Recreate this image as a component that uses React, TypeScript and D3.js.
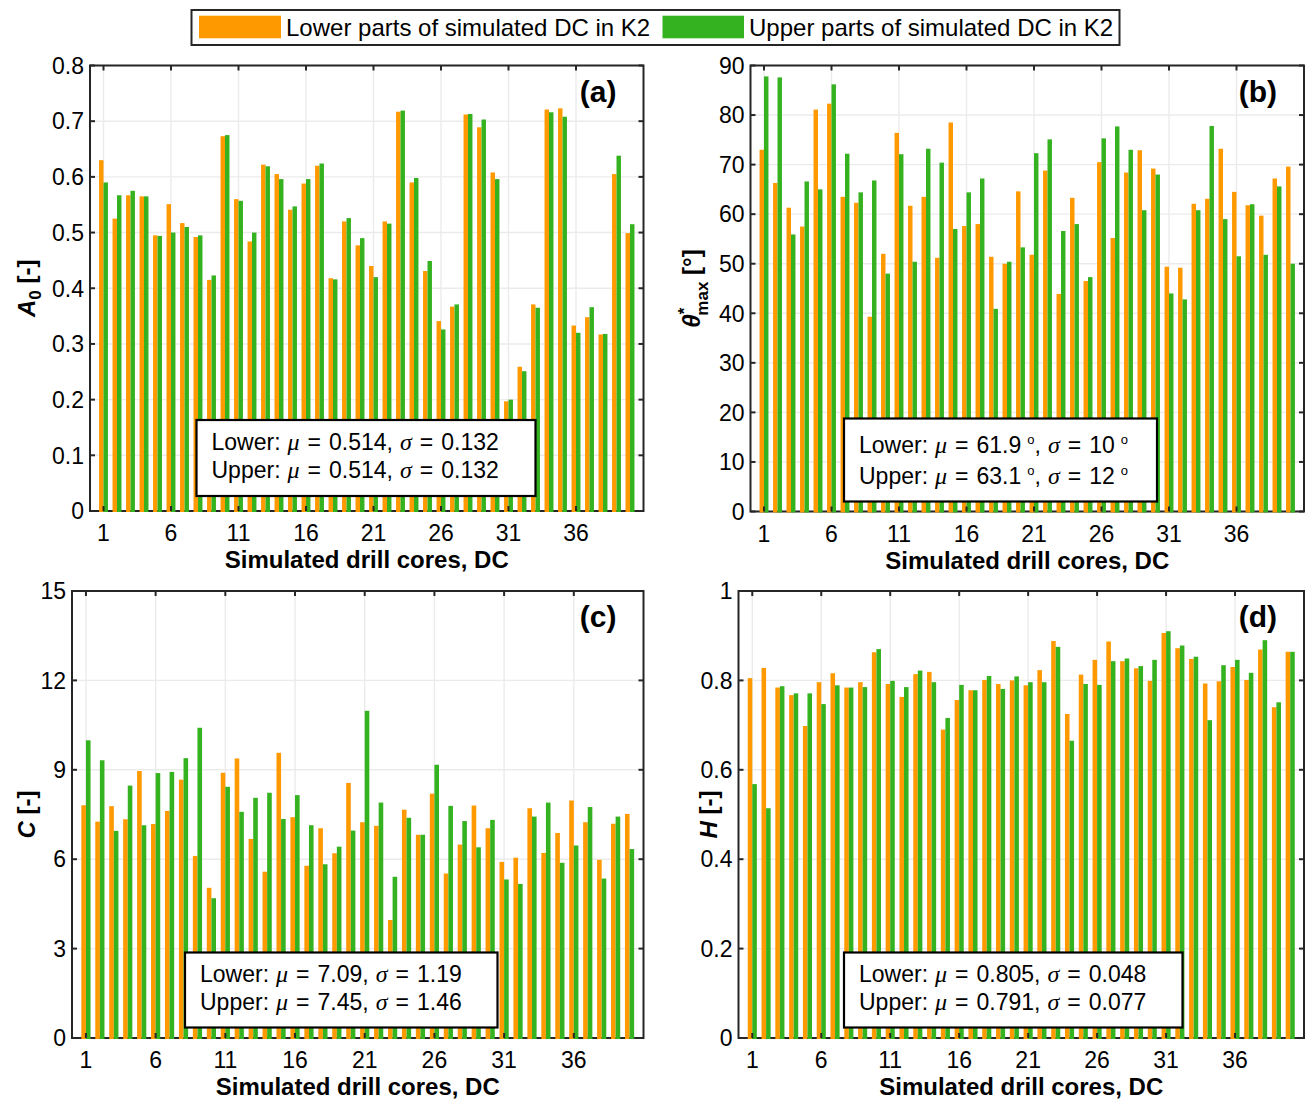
import React from "react";
import * as d3 from "d3";

// drill cores and tick values
const cores = [1, 2, 3, 4, 5, 6, 7, 8, 9, 10, 11, 12, 13, 14, 15, 16, 17, 18, 19, 20,
  21, 22, 23, 24, 25, 26, 27, 28, 29, 30, 31, 32, 33, 34, 35, 36, 37, 38, 39, 40];
const xTicks = [1, 6, 11, 16, 21, 26, 31, 36];

const a0Ticks = [0, 0.1, 0.2, 0.3, 0.4, 0.5, 0.6, 0.7, 0.8];
const thetaTicks = [0, 10, 20, 30, 40, 50, 60, 70, 80, 90];
const cTicks = [0, 3, 6, 9, 12, 15];
const hTicks = [0, 0.2, 0.4, 0.6, 0.8, 1];

// (a) A0
const a0Lower = [0.63, 0.525, 0.567, 0.565, 0.495, 0.551, 0.517, 0.492, 0.415, 0.673,
  0.56, 0.484, 0.622, 0.605, 0.541, 0.588, 0.62, 0.418, 0.52, 0.477,
  0.44, 0.52, 0.717, 0.59, 0.431, 0.341, 0.367, 0.712, 0.689, 0.608,
  0.197, 0.259, 0.371, 0.721, 0.723, 0.333, 0.348, 0.317, 0.605, 0.499];
const a0Upper = [0.59, 0.567, 0.575, 0.565, 0.494, 0.5, 0.51, 0.495, 0.423, 0.675,
  0.557, 0.5, 0.619, 0.596, 0.547, 0.596, 0.624, 0.416, 0.526, 0.49,
  0.42, 0.516, 0.719, 0.598, 0.449, 0.326, 0.371, 0.713, 0.703, 0.596,
  0.2, 0.251, 0.365, 0.716, 0.708, 0.32, 0.366, 0.318, 0.638, 0.515];

// (b) theta*max
const thetaLower = [73.0, 66.3, 61.3, 57.5, 81.1, 82.3, 63.5, 62.3, 39.3, 52.0,
  76.4, 61.7, 63.5, 51.2, 78.5, 57.6, 58.0, 51.4, 50.0, 64.6,
  51.8, 68.8, 43.9, 63.3, 46.5, 70.5, 55.2, 68.4, 72.9, 69.2,
  49.4, 49.2, 62.1, 63.1, 73.2, 64.5, 61.8, 59.7, 67.2, 69.6];
const thetaUpper = [87.8, 87.6, 55.9, 66.6, 65.0, 86.2, 72.2, 64.4, 66.8, 48.0,
  72.1, 50.4, 73.2, 70.4, 57.0, 64.4, 67.2, 40.9, 50.4, 53.3,
  72.3, 75.1, 56.6, 58.0, 47.3, 75.3, 77.7, 73.0, 60.8, 68.0,
  44.0, 42.8, 60.8, 77.8, 59.0, 51.5, 62.0, 51.8, 65.6, 50.0];

// (c) C
const cLower = [7.81, 7.26, 7.78, 7.34, 8.96, 7.18, 7.62, 8.67, 6.11, 5.04,
  8.9, 9.38, 6.68, 5.58, 9.57, 7.41, 5.78, 7.04, 6.2, 8.56,
  7.24, 7.12, 3.96, 7.66, 6.82, 8.2, 5.52, 6.49, 7.8, 7.04,
  5.91, 6.05, 7.71, 6.21, 6.88, 7.97, 7.24, 5.98, 7.19, 7.52];
const cUpper = [9.99, 9.32, 6.95, 8.47, 7.14, 8.89, 8.93, 9.39, 10.41, 4.69,
  8.43, 7.59, 8.06, 8.23, 7.35, 8.15, 7.14, 5.83, 6.42, 6.96,
  10.98, 7.9, 5.41, 7.39, 6.82, 9.17, 7.79, 7.28, 6.4, 7.32,
  5.32, 5.17, 7.43, 7.9, 5.88, 6.46, 7.75, 5.35, 7.43, 6.34];

// (d) H
const hLower = [0.805, 0.828, 0.784, 0.767, 0.698, 0.796, 0.816, 0.784, 0.796, 0.863,
  0.792, 0.763, 0.814, 0.819, 0.69, 0.756, 0.778, 0.801, 0.792, 0.8,
  0.789, 0.823, 0.888, 0.725, 0.813, 0.846, 0.887, 0.843, 0.827, 0.799,
  0.906, 0.872, 0.848, 0.793, 0.798, 0.83, 0.801, 0.869, 0.74, 0.864];
const hUpper = [0.568, 0.514, 0.787, 0.771, 0.771, 0.747, 0.789, 0.784, 0.785, 0.87,
  0.799, 0.785, 0.822, 0.796, 0.716, 0.79, 0.778, 0.81, 0.781, 0.809,
  0.796, 0.796, 0.875, 0.665, 0.792, 0.79, 0.843, 0.849, 0.832, 0.846,
  0.91, 0.878, 0.853, 0.711, 0.834, 0.846, 0.817, 0.89, 0.751, 0.864];

const seriesNames = ["Lower parts of simulated DC in K2", "Upper parts of simulated DC in K2"];

const ORANGE = "#ff9900";
const GREEN = "#35b21f";
const AXIS = "#262626";
const GRID = "#ebebeb";
const FONT = "'Liberation Sans', Arial, Helvetica, sans-serif";
const SERIF = "'Liberation Serif', 'DejaVu Serif', serif";

// one "symbol = value" group, with the wider TeX-like spacing round "="
function Eq({ sym, val, deg }) {
  return (
    <>
      <tspan dx={7} fontFamily={SERIF} fontStyle="italic" fontSize={24}>{sym}</tspan>
      <tspan dx={8}>=</tspan>
      <tspan dx={8}>{val}</tspan>
      {deg ? <tspan dx={6} dy={-9} fontSize={13}>o</tspan> : null}
    </>
  );
}

function Stats({ x, y, w, h, lines, first, gap }) {
  return (
    <g fontFamily={FONT} fontSize={23} fill="#000">
      <rect x={x} y={y} width={w} height={h} fill="#fff" stroke="#000" strokeWidth={2.2} />
      {lines.map((l, i) => (
        <text key={i} x={x + 15} y={y + first + i * gap}>
          <tspan>{l.label}:</tspan>
          <Eq sym="μ" val={l.mu} deg={l.deg} />
          <tspan dy={l.deg ? 9 : 0}>,</tspan>
          <Eq sym="σ" val={l.sigma} deg={l.deg} />
        </text>
      ))}
    </g>
  );
}

function Panel({ left, right, top, bottom, yMax, yTicks, lower, upper, tag, yLabel, yLabelX, stats }) {
  const x = d3.scaleLinear().domain([0, 41]).range([left, right]);
  const y = d3.scaleLinear().domain([0, yMax]).range([bottom, top]);
  const bw = 0.33;
  const fmt = (d) => String(+d.toFixed(2));
  const tk = 5;
  return (
    <g fontFamily={FONT}>
      {xTicks.map((t) => (
        <line key={"gx" + t} x1={x(t)} x2={x(t)} y1={top} y2={bottom} stroke={GRID} strokeWidth={1.4} />
      ))}
      {yTicks.map((t) => (
        <line key={"gy" + t} x1={left} x2={right} y1={y(t)} y2={y(t)} stroke={GRID} strokeWidth={1.4} />
      ))}
      <rect x={left} y={top} width={right - left} height={bottom - top} fill="none" stroke={AXIS} strokeWidth={2} />
      {cores.map((c, i) => (
        <g key={c}>
          <rect x={x(c - bw)} width={x(c) - x(c - bw)} y={y(lower[i])} height={y(0) - y(lower[i]) + 1} fill={ORANGE} />
          <rect x={x(c)} width={x(c + bw) - x(c)} y={y(upper[i])} height={y(0) - y(upper[i]) + 1} fill={GREEN} />
        </g>
      ))}
      {xTicks.map((t) => (
        <g key={"tx" + t}>
          <line x1={x(t)} x2={x(t)} y1={bottom} y2={bottom - tk} stroke={AXIS} strokeWidth={2} />
          <line x1={x(t)} x2={x(t)} y1={top} y2={top + tk} stroke={AXIS} strokeWidth={2} />
          <text x={x(t)} y={bottom + 30} textAnchor="middle" fontSize={23} fill="#000">{t}</text>
        </g>
      ))}
      {yTicks.map((t) => (
        <g key={"ty" + t}>
          <line x1={left} x2={left + tk} y1={y(t)} y2={y(t)} stroke={AXIS} strokeWidth={2} />
          <line x1={right} x2={right - tk} y1={y(t)} y2={y(t)} stroke={AXIS} strokeWidth={2} />
          <text x={left - 6} y={y(t)} dy="0.36em" textAnchor="end" fontSize={23} fill="#000">{fmt(t)}</text>
        </g>
      ))}
      <text x={(left + right) / 2} y={bottom + 57} textAnchor="middle" fontSize={24} fontWeight="bold" fill="#000">
        Simulated drill cores, DC
      </text>
      <text transform={`translate(${yLabelX},${(top + bottom) / 2}) rotate(-90)`} dy="0.36em" textAnchor="middle"
        fontSize={24} fontWeight="bold" fill="#000">
        {yLabel}
      </text>
      <text x={right - 27} y={top + 36} textAnchor="end" fontSize={30} fontWeight="bold" fill="#000">{tag}</text>
      <Stats {...stats} />
    </g>
  );
}

export default function App() {
  return (
    <svg width={1309} height={1102} style={{ position: "absolute", left: 0, top: 0, background: "#fff" }}>
      <rect width={1309} height={1102} fill="#fff" />
      <Panel left={90} right={643.5} top={65.5} bottom={511} yMax={0.8} yTicks={a0Ticks}
        lower={a0Lower} upper={a0Upper} tag="(a)" yLabelX={26}
        yLabel={<><tspan fontStyle="italic">A</tspan><tspan dy={6} fontSize={17}>0</tspan><tspan dy={-6}> [-]</tspan></>}
        stats={{ x: 196.5, y: 420, w: 339, h: 76, first: 30, gap: 28, lines: [
          { label: "Lower", mu: "0.514", sigma: "0.132" },
          { label: "Upper", mu: "0.514", sigma: "0.132" }] }} />
      <Panel left={750.5} right={1304} top={65.5} bottom={511.5} yMax={90} yTicks={thetaTicks}
        lower={thetaLower} upper={thetaUpper} tag="(b)" yLabelX={691}
        yLabel={<><tspan fontStyle="italic">θ</tspan><tspan dy={-10} fontSize={17}>*</tspan>
          <tspan dx={-8} dy={18} fontSize={17}>max</tspan><tspan dy={-8}> [°]</tspan></>}
        stats={{ x: 844, y: 418.5, w: 313, h: 83, first: 34, gap: 31, lines: [
          { label: "Lower", mu: "61.9", sigma: "10", deg: true },
          { label: "Upper", mu: "63.1", sigma: "12", deg: true }] }} />
      <Panel left={72} right={643.5} top={591} bottom={1038} yMax={15} yTicks={cTicks}
        lower={cLower} upper={cUpper} tag="(c)" yLabelX={26}
        yLabel={<><tspan fontStyle="italic">C</tspan><tspan> [-]</tspan></>}
        stats={{ x: 185, y: 952.5, w: 312.5, h: 75, first: 29, gap: 28, lines: [
          { label: "Lower", mu: "7.09", sigma: "1.19" },
          { label: "Upper", mu: "7.45", sigma: "1.46" }] }} />
      <Panel left={738.5} right={1304} top={591} bottom={1038} yMax={1} yTicks={hTicks}
        lower={hLower} upper={hUpper} tag="(d)" yLabelX={708}
        yLabel={<><tspan fontStyle="italic">H</tspan><tspan> [-]</tspan></>}
        stats={{ x: 844, y: 952.5, w: 338.5, h: 75, first: 29, gap: 28, lines: [
          { label: "Lower", mu: "0.805", sigma: "0.048" },
          { label: "Upper", mu: "0.791", sigma: "0.077" }] }} />
      <g fontFamily={FONT} fontSize={24}>
        <rect x={191.5} y={10} width={928} height={35} fill="#fff" stroke={AXIS} strokeWidth={2} />
        <rect x={199} y={15.7} width={82} height={22.6} fill={ORANGE} />
        <text x={286} y={35.5} fill="#000">{seriesNames[0]}</text>
        <rect x={662.5} y={15.7} width={81.5} height={22.6} fill={GREEN} />
        <text x={749} y={35.5} fill="#000">{seriesNames[1]}</text>
      </g>
    </svg>
  );
}
